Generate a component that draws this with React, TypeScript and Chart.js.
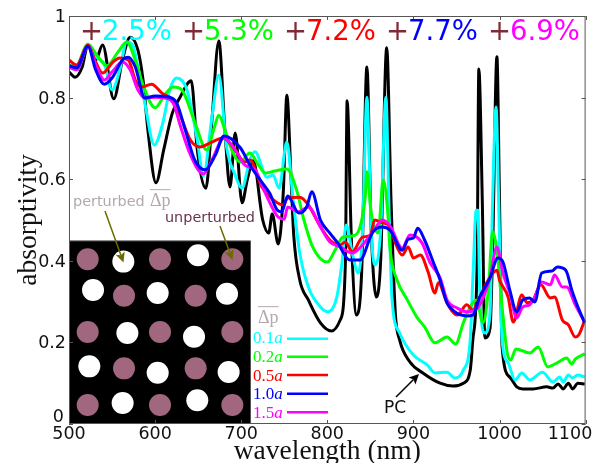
import React, { useEffect, useRef } from "react";
import { Chart, registerables } from "chart.js";

Chart.register(...registerables);

const blackWl = [500,507,515,522,531,539,552,562,571,580,586,592,601,610,620,629,642,649,659,666,674,681,687,693,701,707,714,725,732,736,743,749,753,758,761,768,778,792,805,815,821,823,828,834,840,846,851,857,862,869,874,879,884,896,911,931,946,958,966,969,974,976,980,983,989,992,997,1000,1003,1012,1020,1027,1039,1055,1062,1068,1074,1080,1085,1091,1099];
const blackAbs = [.863,.850,.873,.929,.892,.929,.797,.892,.948,.917,.843,.713,.591,.672,.762,.801,.841,.672,.578,.745,.939,.721,.581,.713,.542,.598,.645,.500,.468,.515,.441,.573,.806,.598,.463,.353,.304,.248,.228,.255,.394,.792,.451,.267,.377,.875,.475,.311,.402,.922,.549,.272,.206,.152,.125,.100,.093,.100,.132,.206,.394,.870,.549,.211,.235,.426,.900,.549,.189,.115,.091,.086,.086,.091,.088,.098,.086,.100,.086,.100,.098];

const cyanWl = [500,509,522,533,541,550,559,567,574,579,588,599,609,617,625,637,649,656,666,674,683,693,701,710,716,730,737,744,753,760,768,778,792,801,811,817,822,829,836,841,846,851,855,862,868,872,875,884,900,916,925,939,948,958,966,969,973,975,977,983,989,992,996,999,1003,1010,1018,1026,1035,1050,1062,1070,1074,1080,1085,1091,1099];
const cyanAbs = [.875,.868,.926,.897,.882,.819,.868,.936,.929,.885,.787,.684,.738,.819,.848,.819,.696,.608,.752,.855,.679,.610,.578,.647,.667,.605,.610,.578,.691,.556,.419,.336,.287,.275,.311,.394,.488,.419,.370,.475,.801,.475,.390,.475,.801,.500,.311,.223,.169,.145,.125,.127,.113,.132,.206,.353,.524,.524,.328,.223,.272,.549,.777,.549,.206,.150,.108,.125,.108,.127,.103,.115,.103,.120,.113,.120,.115];

const greenWl = [500,508,522,533,544,557,567,577,586,600,611,621,631,646,660,668,674,681,689,699,710,720,728,739,753,765,772,783,800,809,818,829,838,844,846,851,859,865,870,873,881,893,904,913,925,939,949,958,966,973,981,987,992,997,1003,1009,1013,1019,1035,1045,1056,1067,1078,1084,1088,1099];
const greenAbs = [.880,.878,.931,.902,.878,.912,.936,.892,.831,.775,.806,.826,.819,.740,.672,.721,.757,.721,.672,.642,.664,.635,.615,.620,.625,.569,.507,.434,.397,.426,.458,.461,.483,.556,.618,.517,.468,.598,.524,.426,.353,.304,.262,.238,.199,.213,.196,.248,.287,.304,.248,.328,.471,.426,.287,.174,.157,.184,.174,.189,.140,.150,.162,.147,.159,.172];

const redWl = [500,509,522,530,539,551,559,569,577,584,596,608,620,629,641,652,664,679,693,704,710,724,742,749,754,768,778,789,803,815,821,829,841,850,855,864,873,879,887,894,900,908,917,925,929,939,951,962,969,977,987,997,1000,1010,1016,1026,1032,1039,1048,1059,1064,1073,1080,1088,1092,1099];
const redAbs = [.892,.880,.929,.892,.860,.887,.897,.892,.843,.826,.833,.811,.794,.757,.696,.679,.689,.701,.672,.642,.647,.581,.542,.537,.554,.556,.537,.495,.451,.439,.446,.422,.458,.463,.500,.493,.483,.444,.414,.434,.407,.414,.373,.321,.346,.297,.267,.292,.279,.311,.353,.377,.353,.311,.250,.316,.297,.304,.341,.309,.311,.255,.243,.213,.218,.255];

const magentaWl = [500,509,522,531,541,550,562,571,580,588,600,611,621,629,641,656,666,680,693,704,716,728,743,750,754,766,778,792,803,815,829,841,853,864,873,887,896,910,919,931,939,951,962,977,989,997,1004,1012,1020,1027,1035,1041,1049,1059,1064,1073,1078,1088,1099];
const magentaAbs = [.875,.868,.926,.880,.843,.863,.887,.868,.819,.799,.801,.799,.787,.733,.660,.613,.647,.701,.672,.635,.623,.566,.507,.502,.532,.520,.532,.483,.446,.434,.419,.439,.471,.500,.485,.431,.463,.444,.397,.358,.304,.284,.275,.292,.360,.434,.370,.321,.260,.287,.292,.311,.348,.341,.365,.336,.336,.292,.250];

const blueWl = [500,509,522,531,541,550,562,569,577,588,600,617,625,635,646,658,670,680,699,710,728,733,742,747,754,767,776,782,792,803,812,826,838,850,853,864,873,887,894,900,905,913,923,931,939,948,962,969,977,989,998,1004,1012,1020,1027,1035,1041,1049,1061,1067,1077,1084,1091,1099];
const blueAbs = [.878,.873,.926,.868,.833,.848,.892,.899,.875,.799,.804,.801,.787,.721,.647,.623,.659,.706,.677,.635,.581,.566,.524,.520,.559,.517,.532,.569,.500,.468,.444,.402,.402,.458,.471,.483,.475,.426,.453,.456,.480,.451,.397,.353,.297,.275,.265,.267,.311,.358,.407,.397,.328,.275,.304,.309,.299,.370,.375,.385,.377,.328,.287,.248];

const unperturbedWl = [521.7,605.7,689.7,563.9,647.1,521.7,605.7,689.7,563.9,647.1,521.7,605.7,689.7];
const unperturbedAbs = [.404,.404,.404,.3145,.3145,.2255,.2255,.2255,.1364,.1364,.0466,.0466,.0466];
const perturbedWl = [563.1,649.8,527.9,603,683.5,567.8,645.2,523.6,603,685.4,562.3,649];
const perturbedAbs = [.398,.4134,.3284,.3211,.3194,.223,.214,.1413,.1258,.1275,.0515,.058];

const gainLabels = ["2.5%", "5.3%", "7.2%", "7.7%", "6.9%"];
const legendLabels = ["0.1", "0.2", "0.5", "1.0", "1.5"];
const CYAN = "#00ffff", GREEN = "#00ff00", RED = "#ff0000", BLUE = "#0000ff", MAGENTA = "#ff00ff";
const seriesColors = [CYAN, GREEN, RED, BLUE, MAGENTA];

const pts = (xs: number[], ys: number[]) => xs.map((x, i) => ({ x, y: ys[i] }));
const SANS = '"DejaVu Sans"';
const SERIF = '"Liberation Serif"';

function arrow(ctx: any, x0: number, y0: number, x1: number, y1: number, color: string, w: number, h: number) {
  const a = Math.atan2(y1 - y0, x1 - x0);
  ctx.strokeStyle = color;
  ctx.fillStyle = color;
  ctx.lineWidth = w;
  ctx.beginPath();
  ctx.moveTo(x0, y0);
  ctx.lineTo(x1 - Math.cos(a) * h * 0.7, y1 - Math.sin(a) * h * 0.7);
  ctx.stroke();
  ctx.beginPath();
  ctx.moveTo(x1, y1);
  ctx.lineTo(x1 - h * Math.cos(a - 0.45), y1 - h * Math.sin(a - 0.45));
  ctx.lineTo(x1 - h * 0.7 * Math.cos(a), y1 - h * 0.7 * Math.sin(a));
  ctx.lineTo(x1 - h * Math.cos(a + 0.45), y1 - h * Math.sin(a + 0.45));
  ctx.closePath();
  ctx.fill();
}

function deltaP(ctx: any, x: number, base: number, size: number, color: string) {
  ctx.font = `${size}px ${SERIF}`;
  ctx.fillStyle = color;
  ctx.textAlign = "left";
  ctx.textBaseline = "alphabetic";
  ctx.fillText("Δp", x, base);
  const w = ctx.measureText("Δp").width;
  ctx.strokeStyle = color;
  ctx.lineWidth = 1;
  ctx.beginPath();
  ctx.moveTo(x, base - size * 0.88);
  ctx.lineTo(x + w, base - size * 0.88);
  ctx.stroke();
}

const insetPlugin = {
  id: "inset",
  beforeDatasetDraw(chart: any, args: any) {
    if (args.index !== 6) return;
    const { ctx, scales } = chart;
    const x0 = scales.x.getPixelForValue(500);
    const x1 = scales.x.getPixelForValue(711);
    const y0 = scales.y.getPixelForValue(0.449);
    const y1 = scales.y.getPixelForValue(0);
    ctx.save();
    ctx.fillStyle = "#000";
    ctx.fillRect(x0, y0, x1 - x0, y1 - y0);
    ctx.strokeStyle = "#777";
    ctx.lineWidth = 1;
    ctx.beginPath();
    ctx.moveTo(x0, y0);
    ctx.lineTo(x1, y0);
    ctx.stroke();
    ctx.restore();
  },
};

const overlayPlugin = {
  id: "overlay",
  afterDatasetsDraw(chart: any) {
    const { ctx, chartArea: a, scales } = chart;
    ctx.save();
    // frame and inward ticks
    ctx.strokeStyle = "#555";
    ctx.lineWidth = 1;
    ctx.strokeRect(a.left + 0.5, a.top + 0.5, a.right - a.left - 1, a.bottom - a.top - 1);
    ctx.beginPath();
    scales.x.ticks.forEach((t: any) => {
      const p = Math.round(scales.x.getPixelForValue(t.value)) + 0.5;
      ctx.moveTo(p, a.top);
      ctx.lineTo(p, a.top + 4);
      ctx.moveTo(p, a.bottom);
      ctx.lineTo(p, a.bottom - 4);
    });
    scales.y.ticks.forEach((t: any) => {
      const p = Math.round(scales.y.getPixelForValue(t.value)) + 0.5;
      ctx.moveTo(a.left, p);
      ctx.lineTo(a.left + 4, p);
      ctx.moveTo(a.right, p);
      ctx.lineTo(a.right - 4, p);
    });
    ctx.stroke();

    // offset axis labels
    ctx.fillStyle = "#111";
    ctx.font = `17.5px ${SANS}`;
    ctx.textBaseline = "alphabetic";
    ctx.textAlign = "center";
    ctx.fillText("1100", 570, 439);
    ctx.textAlign = "right";
    ctx.fillText("0", 64, 421.5);

    // gain labels across the top
    ctx.textBaseline = "alphabetic";
    ctx.textAlign = "left";
    ctx.font = `27.5px ${SANS}`;
    gainLabels.forEach((g, i) => {
      const x = 80 + i * 102;
      ctx.fillStyle = "#7f2a36";
      ctx.fillText("+", x, 40);
      ctx.fillStyle = seriesColors[i];
      ctx.fillText(g, x + 22, 40);
    });

    // legend
    deltaP(ctx, 258, 322.5, 18, "#b3a9ad");
    const rows = [343.3, 361.7, 380.7, 399.3, 417.7];
    const lineY = [338.7, 356.7, 375, 393.7, 412.3];
    legendLabels.forEach((l, i) => {
      ctx.fillStyle = seriesColors[i];
      ctx.font = `17px ${SERIF}`;
      ctx.textAlign = "left";
      ctx.fillText(l, 253, rows[i]);
      const w = ctx.measureText(l).width;
      ctx.font = `italic 17px ${SERIF}`;
      ctx.fillText("a", 253 + w, rows[i]);
      ctx.strokeStyle = seriesColors[i];
      ctx.lineWidth = 2.5;
      ctx.beginPath();
      ctx.moveTo(287, lineY[i]);
      ctx.lineTo(328, lineY[i]);
      ctx.stroke();
    });

    // annotations
    ctx.font = `14.4px ${SANS}`;
    ctx.fillStyle = "#b3a9ad";
    ctx.fillText("perturbed", 73, 205.5);
    deltaP(ctx, 150, 205.5, 18, "#b3a9ad");
    ctx.font = `14.4px ${SANS}`;
    ctx.fillStyle = "#6b3350";
    ctx.fillText("unperturbed", 165, 221.5);
    ctx.font = `17px ${SANS}`;
    ctx.fillStyle = "#111";
    ctx.fillText("PC", 384, 412.5);
    arrow(ctx, 105, 211, 123.5, 262.5, "#6b6b00", 1.5, 11);
    arrow(ctx, 220, 226, 232.5, 260, "#6b6b00", 1.5, 11);
    arrow(ctx, 396, 397, 419, 374, "#000", 1.5, 11);
    ctx.restore();
  },
};

export default function App() {
  const ref = useRef<HTMLCanvasElement | null>(null);
  useEffect(() => {
    if (!ref.current) return;
    const line = (label: string, xs: number[], ys: number[], color: string, order: number) => ({
      label,
      data: pts(xs, ys),
      borderColor: color,
      backgroundColor: color,
      borderWidth: 3,
      showLine: true,
      pointRadius: 0,
      cubicInterpolationMode: "monotone" as const,
      borderJoinStyle: "round" as const,
      order,
    });
    const chart = new Chart(ref.current, {
      type: "scatter",
      data: {
        datasets: [
          line("PC", blackWl, blackAbs, "#000", 7),
          line("0.1a", cyanWl, cyanAbs, CYAN, 6),
          line("0.2a", greenWl, greenAbs, GREEN, 5),
          line("0.5a", redWl, redAbs, RED, 4),
          line("1.5a", magentaWl, magentaAbs, MAGENTA, 3),
          line("1.0a", blueWl, blueAbs, BLUE, 2),
          {
            label: "unperturbed",
            data: pts(unperturbedWl, unperturbedAbs),
            pointRadius: 11,
            pointBackgroundColor: "#a0677f",
            pointBorderWidth: 0,
            order: 1,
          },
          {
            label: "perturbed",
            data: pts(perturbedWl, perturbedAbs),
            pointRadius: 11,
            pointBackgroundColor: "#ffffff",
            pointBorderWidth: 0,
            order: 0,
          },
        ],
      },
      options: {
        responsive: false,
        animation: false,
        events: [],
        layout: { padding: { top: 16, right: 16.4, left: 0, bottom: 0 } },
        plugins: { legend: { display: false }, tooltip: { enabled: false } },
        scales: {
          x: {
            type: "linear",
            min: 500,
            max: 1100,
            afterFit: (s: any) => { s.height = 39; },
            grid: { display: false, drawTicks: false },
            border: { display: false },
            ticks: {
              stepSize: 100,
              autoSkip: false,
              maxRotation: 0,
              padding: 0,
              color: "#111",
              font: { family: "DejaVu Sans", size: 17.5 },
              callback: (v: any) => (v === 1100 ? "" : String(v)),
            },
            title: {
              display: true,
              text: "wavelength (nm)",
              color: "#111",
              font: { family: "Liberation Serif", size: 27.5 },
              padding: { top: 0, bottom: -5 },
            },
          },
          y: {
            type: "linear",
            min: 0,
            max: 1,
            afterFit: (s: any) => { s.width = 69; },
            grid: { display: false, drawTicks: false },
            border: { display: false },
            ticks: {
              stepSize: 0.2,
              autoSkip: false,
              padding: 3,
              labelOffset: 1.5,
              color: "#111",
              font: { family: "DejaVu Sans", size: 17.5 },
              callback: (v: any) => (v === 0 ? "" : String(Number(Number(v).toFixed(1)))),
            },
            title: {
              display: true,
              text: "absorptivity",
              color: "#111",
              font: { family: "Liberation Serif", size: 27.5 },
              padding: { top: 12, bottom: 0 },
            },
          },
        },
      },
      plugins: [insetPlugin, overlayPlugin],
    } as any);
    return () => chart.destroy();
  }, []);
  return (
    <div style={{ position: "absolute", left: 0, top: 0, width: 602, height: 463, background: "#fff" }}>
      <canvas ref={ref} width={602} height={463} style={{ display: "block" }} />
    </div>
  );
}
